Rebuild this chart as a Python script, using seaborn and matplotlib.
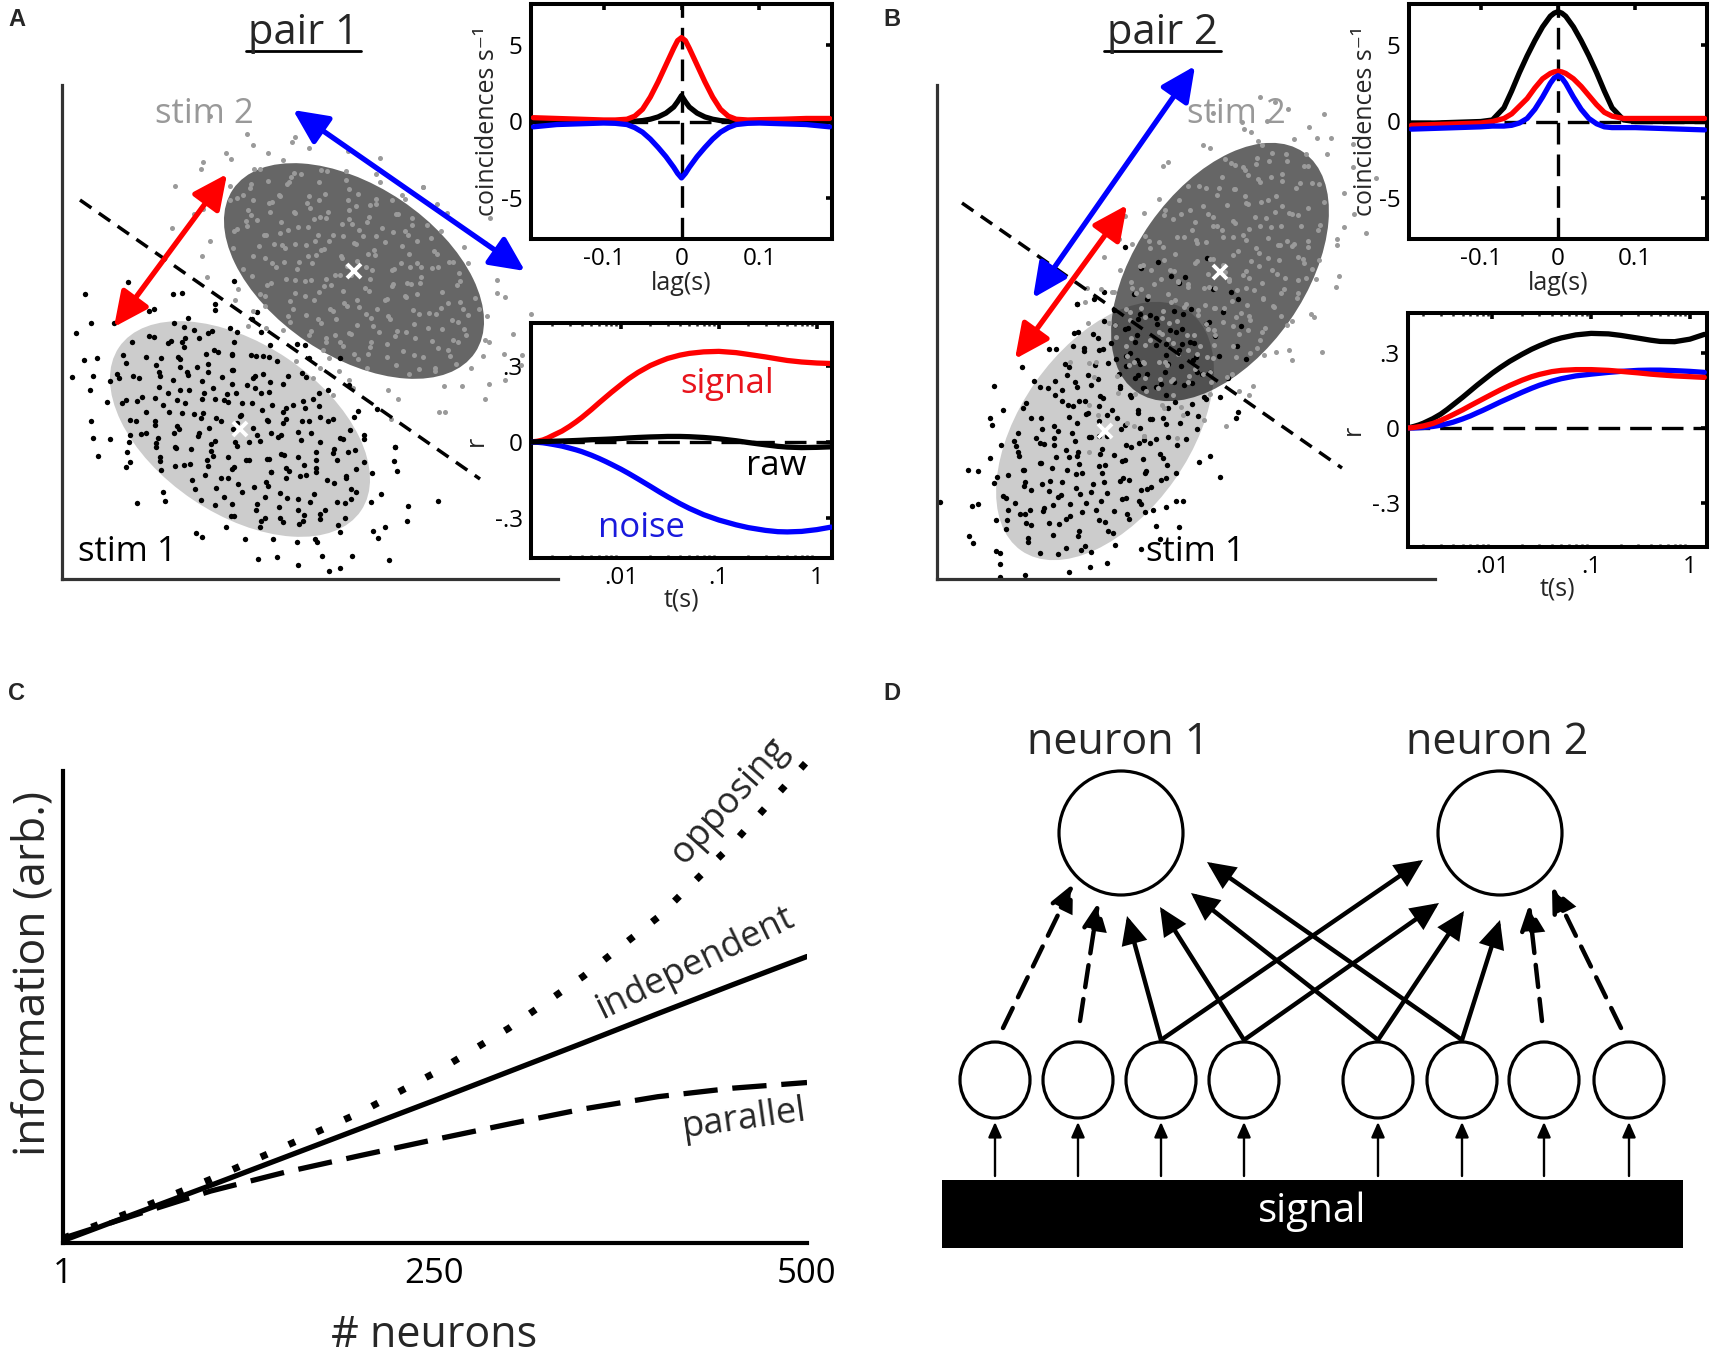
import numpy as np
import pandas as pd
import matplotlib
matplotlib.use("Agg")
import matplotlib.pyplot as plt
from matplotlib.patches import Ellipse, Circle, Rectangle, FancyArrowPatch, ArrowStyle
from matplotlib.ticker import FixedLocator, FixedFormatter, LogLocator, NullFormatter
import seaborn as sns

# ---------------- cross-correlograms (top insets) ----------------
lag_s = [-0.19, -0.16, -0.13, -0.1, -0.085, -0.07, -0.06, -0.05, -0.04, -0.03, -0.02, -0.01, -0.005, 0.0,
         0.005, 0.01, 0.02, 0.03, 0.04, 0.05, 0.06, 0.07, 0.085, 0.1, 0.13, 0.16, 0.19]
ccg1_signal = [0.25, 0.2, 0.15, 0.1, 0.1, 0.15, 0.35, 0.8, 1.6, 2.6, 3.7, 4.8, 5.3, 5.5,
               5.3, 4.8, 3.7, 2.6, 1.6, 0.8, 0.35, 0.15, 0.1, 0.12, 0.15, 0.2, 0.2]
ccg1_raw = [0, 0, 0, 0, 0, 0, 0.02, 0.06, 0.15, 0.3, 0.55, 0.95, 1.3, 1.7,
            1.3, 0.95, 0.55, 0.3, 0.15, 0.06, 0.02, 0, 0, 0, 0, 0, 0]
ccg1_noise = [-0.35, -0.2, -0.15, -0.1, -0.12, -0.2, -0.4, -0.7, -1.15, -1.7, -2.3, -3.0, -3.4, -3.7,
              -3.4, -3.0, -2.3, -1.7, -1.15, -0.7, -0.4, -0.2, -0.12, -0.1, -0.15, -0.2, -0.35]
ccg2_signal = [-0.25, -0.2, -0.15, -0.1, 0.0, 0.2, 0.5, 1.0, 1.5, 2.2, 2.8, 3.15, 3.25, 3.3,
               3.25, 3.15, 2.8, 2.3, 1.7, 1.1, 0.6, 0.35, 0.2, 0.2, 0.2, 0.2, 0.2]
ccg2_raw = [-0.1, -0.1, -0.05, 0.0, 0.1, 0.9, 2.0, 3.2, 4.3, 5.3, 6.2, 6.9, 7.1, 7.2,
            7.1, 6.9, 6.2, 5.3, 4.3, 3.2, 2.0, 0.9, 0.1, 0.0, 0.0, 0.0, 0.0]
ccg2_noise = [-0.5, -0.45, -0.4, -0.35, -0.3, -0.3, -0.25, -0.1, 0.2, 0.8, 1.6, 2.5, 2.85, 3.0,
              2.85, 2.5, 1.6, 0.8, 0.2, -0.15, -0.35, -0.4, -0.4, -0.4, -0.45, -0.5, -0.55]

# ---------------- correlation vs counting window (bottom insets) ----------------
win_s = [0.0012, 0.0014, 0.0016, 0.0018, 0.002, 0.0025, 0.003, 0.0035, 0.004, 0.005, 0.006,
         0.007, 0.008, 0.01, 0.012, 0.015, 0.02, 0.025, 0.03, 0.04, 0.05, 0.07, 0.1, 0.15,
         0.2, 0.3, 0.4, 0.5, 0.7, 1.0, 1.4]
r1_signal = [0.0, 0.003, 0.008, 0.016, 0.025, 0.043, 0.062, 0.08, 0.097, 0.128, 0.155,
             0.177, 0.196, 0.226, 0.25, 0.275, 0.302, 0.318, 0.33, 0.343, 0.35, 0.356, 0.358, 0.353,
             0.346, 0.336, 0.328, 0.322, 0.316, 0.312, 0.31]
r1_raw = [0.0, 0.001, 0.002, 0.002, 0.003, 0.004, 0.005, 0.006, 0.007, 0.009, 0.01,
          0.011, 0.012, 0.014, 0.016, 0.018, 0.02, 0.021, 0.022, 0.022, 0.021, 0.018, 0.013, 0.005,
          -0.002, -0.011, -0.017, -0.02, -0.022, -0.021, -0.019]
r1_noise = [0.0, -0.001, -0.003, -0.006, -0.009, -0.016, -0.024, -0.031, -0.038, -0.052, -0.065,
            -0.077, -0.088, -0.107, -0.124, -0.146, -0.175, -0.198, -0.216, -0.243, -0.262, -0.287, -0.308, -0.327,
            -0.338, -0.349, -0.354, -0.355, -0.353, -0.346, -0.336]
r2_signal = [-0.002, 0.0, 0.002, 0.005, 0.008, 0.018, 0.03, 0.042, 0.053, 0.072, 0.089,
             0.103, 0.115, 0.135, 0.151, 0.169, 0.19, 0.204, 0.213, 0.224, 0.229, 0.232, 0.232, 0.229,
             0.225, 0.219, 0.214, 0.211, 0.207, 0.204, 0.201]
r2_raw = [-0.004, 0.0, 0.006, 0.012, 0.019, 0.037, 0.055, 0.074, 0.092, 0.122, 0.148,
          0.17, 0.188, 0.218, 0.24, 0.265, 0.293, 0.313, 0.327, 0.347, 0.358, 0.37, 0.376, 0.374,
          0.368, 0.357, 0.349, 0.344, 0.343, 0.353, 0.372]
r2_noise = [-0.002, 0.0, 0.0, 0.001, 0.002, 0.006, 0.011, 0.017, 0.023, 0.036, 0.048,
            0.06, 0.07, 0.088, 0.103, 0.12, 0.142, 0.158, 0.17, 0.186, 0.196, 0.207, 0.214, 0.221,
            0.225, 0.229, 0.23, 0.23, 0.228, 0.225, 0.221]

# ---------------- panel C ----------------
n_neurons = [1, 50, 100, 150, 200, 250, 300, 350, 400, 450, 500]
info_independent = [0.005, 0.063, 0.122, 0.182, 0.242, 0.302, 0.363, 0.424, 0.486, 0.547, 0.607]
info_opposing = [0.01, 0.07, 0.135, 0.205, 0.276, 0.36, 0.455, 0.565, 0.69, 0.845, 1.02]
info_parallel = [0.01, 0.06, 0.11, 0.15, 0.185, 0.219, 0.252, 0.284, 0.31, 0.328, 0.34]
n_ticks = [1, 250, 500]
n_ticklabels = ["1", "250", "500"]

# ---------------- schematic response clouds ----------------
# sample offsets in units of the covariance-ellipse semi-axes
cloud_uv = [
    (0.12, 0.05), (-0.31, 0.22), (0.45, -0.18), (-0.08, -0.41), (0.67, 0.33), (-0.55, -0.12), (0.21, 0.58), (-0.73, 0.41), (0.38, -0.62), (-0.19, 0.81),
    (0.83, -0.07), (-0.42, -0.69), (0.05, 0.33), (-0.91, -0.28), (0.58, 0.12), (-0.26, -0.15), (0.31, 0.87), (-0.64, 0.66), (0.92, 0.44), (-0.03, -0.88),
    (0.17, -0.25), (-0.48, 0.51), (0.71, -0.49), (-0.81, 0.08), (0.26, 0.21), (-0.12, 0.62), (0.49, -0.83), (-0.36, -0.47), (1.02, 0.15), (-0.58, -0.85),
    (0.08, -0.6), (-0.22, 0.39), (0.63, 0.71), (-0.97, 0.55), (0.35, -0.34), (-0.69, -0.4), (0.14, 0.95), (-0.05, 0.14), (0.79, 0.22), (-0.44, 0.05),
    (0.55, -0.02), (-0.29, -0.92), (0.42, 0.43), (-0.86, -0.61), (0.02, -0.16), (-0.15, -0.67), (0.96, -0.35), (-0.61, 0.29), (0.24, -0.78), (-0.39, 0.92),
    (0.73, 0.55), (-0.02, 0.49), (0.33, 0.03), (-0.77, -0.17), (0.47, 0.66), (-0.53, 0.77), (0.11, -0.44), (-0.34, 0.11), (0.87, -0.6), (-0.1, -0.28),
    (1.15, -0.12), (-1.12, 0.2), (0.6, 0.95), (-0.7, -0.95), (0.3, -1.05), (-0.25, 1.08), (1.05, 0.62), (-1.04, -0.45), (0.85, -0.95), (-0.9, 0.88),
    (0.19, 0.17), (-0.47, -0.3), (0.52, 0.27), (-0.18, -0.05), (0.07, 0.72), (-0.62, -0.6), (0.4, -0.5), (-0.33, 0.68), (0.68, -0.25), (-0.84, 0.33),
    (0.27, -0.12), (-0.09, 0.27), (0.61, 0.42), (-0.5, -0.52), (0.15, -0.9), (-0.72, 0.18), (0.9, 0.05), (-0.23, -0.79), (0.36, 0.74), (-0.4, 0.35),
    (0.04, -0.35), (-0.57, 0.04), (0.76, -0.73), (-0.13, 0.47), (0.5, 0.07), (-0.95, -0.05), (0.22, 0.4), (-0.3, -0.6), (0.64, -0.41), (-0.66, 0.52),
    (1.25, 0.35), (-1.3, -0.15), (0.45, 1.15), (-0.5, -1.12), (1.1, -0.7), (-0.15, -1.2), (0.05, 1.25), (-1.2, 0.7), (1.35, -0.3), (-0.8, -1.05),
    (0.1, -0.07), (-0.2, 0.18), (0.34, -0.22), (-0.45, 0.6), (0.57, -0.6), (-0.6, -0.25), (0.18, 0.5), (-0.07, -0.52), (0.81, 0.37), (-0.37, -0.38),
    (0.29, 0.63), (-0.76, -0.47), (0.44, -0.09), (-0.11, 0.9), (0.69, 0.08), (-0.52, 0.2), (0.09, -0.74), (-0.27, 0.53), (0.94, -0.18), (-0.88, -0.3),
    (0.39, 0.3), (-0.04, 0.04), (0.53, -0.36), (-0.35, -0.8), (0.74, 0.72), (-0.68, 0.02), (0.2, -0.55), (-0.16, 0.32), (0.62, 0.58), (-0.54, -0.7),
    (0.13, 0.26), (-0.41, -0.11), (0.78, -0.3), (-0.21, -0.34), (0.32, 0.48), (-0.63, 0.43), (0.48, -0.7), (-0.01, 0.66), (0.86, 0.15), (-0.78, 0.6),
    (1.2, 0.0), (-1.05, 0.5), (0.7, -1.0), (-0.35, 1.15), (0.95, 0.85), (-1.15, -0.6), (0.2, -1.3), (-0.6, 1.0), (1.4, 0.6), (-1.4, 0.3),
]
ELL_A, ELL_B = 146, 85          # ellipse semi-axes (px)
pairA = dict(light=(178, 150), dark=(292, 308), tilt=-34, spins_light=[0, 90], spins_dark=[45, 135],
             sep=((18, 379), (418, 100)), red=((52, 252), (165, 405)), blue=((231, 469), (463, 308)))
pairB = dict(light=(168, 148), dark=(283, 307), tilt=55, spins_light=[20, 110], spins_dark=[245, 155],
             sep=((25, 376), (405, 111)), red=((78, 220), (190, 374)), blue=((96, 281), (258, 513)))

# ---------------- panel D layout ----------------
big_centers = [(1121, 833), (1500, 833)]
small_x = [995, 1078, 1161, 1244, 1378, 1462, 1544, 1629]
small_y = 1080
dashed_links = [((1003, 1028), (1073, 884)), ((1080, 1021), (1098, 903)),
                ((1542, 1021), (1529, 905)), ((1621, 1028), (1552, 887))]
solid_links = [((1161, 1040), (1127, 916)), ((1244, 1040), (1160, 907)),
               ((1378, 1040), (1191, 893)), ((1462, 1040), (1207, 862)),
               ((1161, 1040), (1423, 860)), ((1244, 1040), (1439, 903)),
               ((1378, 1040), (1464, 911)), ((1462, 1040), (1500, 920))]

# =====================================================================
sns.set_theme(style="white")
plt.rcParams["font.family"] = ["Open Sans", "DejaVu Sans"]
plt.rcParams["axes.unicode_minus"] = False

W, H = 1714, 1357
fig = plt.figure(figsize=(W / 100, H / 100), dpi=100)
fig.patch.set_facecolor("white")


def px_axes(x0, y0, x1, y1, **kw):
    return fig.add_axes([x0 / W, 1 - y1 / H, (x1 - x0) / W, (y1 - y0) / H], **kw)


def cloud_points(center, tilt, spins):
    uv = np.array(cloud_uv)
    ct, st = np.cos(np.radians(tilt)), np.sin(np.radians(tilt))
    xs, ys = [], []
    for s in spins:
        c, si = np.cos(np.radians(s)), np.sin(np.radians(s))
        u = uv[:, 0] * c - uv[:, 1] * si
        v = uv[:, 0] * si + uv[:, 1] * c
        xs.append(center[0] + ELL_A * u * ct - ELL_B * v * st)
        ys.append(center[1] + ELL_A * u * st + ELL_B * v * ct)
    return np.concatenate(xs), np.concatenate(ys)


def scatter_panel(box, p, xlabel_x):
    ax = px_axes(*box, zorder=1)
    ax.set_facecolor("none")
    ax.set_xlim(0, box[2] - box[0])
    ax.set_ylim(0, box[3] - box[1])
    for side in ["top", "right"]:
        ax.spines[side].set_visible(False)
    for side in ["left", "bottom"]:
        ax.spines[side].set_color("#333333")
        ax.spines[side].set_linewidth(2.3)
    ax.set_xticks([])
    ax.set_yticks([])
    ax.add_patch(Ellipse(p["light"], 2 * ELL_A, 2 * ELL_B, angle=p["tilt"], fc="#cccccc", ec="none", zorder=1))
    bx, by = cloud_points(p["light"], p["tilt"], p["spins_light"])
    sns.scatterplot(x=bx, y=by, s=15, color="black", linewidth=0, ax=ax, zorder=2, legend=False)
    ax.add_patch(Ellipse(p["dark"], 2 * ELL_A, 2 * ELL_B, angle=p["tilt"], fc="black", alpha=0.6, ec="none", zorder=3))
    gx, gy = cloud_points(p["dark"], p["tilt"], p["spins_dark"])
    sns.scatterplot(x=gx, y=gy, s=13, color="#9a9a9a", linewidth=0, ax=ax, zorder=4, legend=False)
    (x0, y0), (x1, y1) = p["sep"]
    ax.plot([x0, x1], [y0, y1], color="black", lw=2.5, dashes=(4, 2.6), zorder=5)
    style = ArrowStyle("<|-|>", head_length=21, head_width=10)
    for key, col in [("red", "#ff0000"), ("blue", "#0000ff")]:
        a, b = p[key]
        ax.add_patch(FancyArrowPatch(a, b, arrowstyle=style, mutation_scale=1, lw=3.8, color=col,
                                     shrinkA=0, shrinkB=0, zorder=6, clip_on=False))
    for c in [p["light"], p["dark"]]:
        ax.plot([c[0]], [c[1]], marker="x", ms=10, mew=2.8, color="white", zorder=7)
    ax.set_xlabel("neuron 1", fontsize=31, va="center")
    ax.xaxis.set_label_coords(0.496, -0.071)
    ax.set_ylabel("neuron 2", fontsize=31, va="center", ha="center")
    ax.yaxis.set_label_coords(xlabel_x, 0.498)
    return ax


def style_inset(ax):
    for s in ax.spines.values():
        s.set_linewidth(2.9)
        s.set_color("black")
    ax.tick_params(which="major", direction="in", top=True, right=True, length=4, width=2.6,
                   labelsize=17.5, pad=6, colors="black")
    ax.tick_params(which="minor", direction="in", top=True, bottom=True, length=2.5, width=1.8)


def lag_inset(box, series):
    ax = px_axes(*box, zorder=2)
    ax.set_facecolor("white")
    ax.axvline(0, color="black", lw=2.4, dashes=(6.5, 3), zorder=1)
    ax.axhline(0, color="black", lw=2.4, dashes=(6.5, 3), zorder=1)
    for i, (vals, col) in enumerate(series):
        sns.lineplot(x=lag_s, y=vals, color=col, lw=3.8, ax=ax, zorder=2 + i)
    ax.set_xlim(-0.193, 0.193)
    ax.set_ylim(-7.7, 7.7)
    ax.xaxis.set_major_locator(FixedLocator([-0.1, 0, 0.1]))
    ax.xaxis.set_major_formatter(FixedFormatter(["-0.1", "0", "0.1"]))
    ax.yaxis.set_major_locator(FixedLocator([-5, 0, 5]))
    ax.yaxis.set_major_formatter(FixedFormatter(["-5", "0", "5"]))
    style_inset(ax)
    ax.set_xlabel("lag(s)", fontsize=18, labelpad=0)
    ax.set_ylabel("coincidences s\u207b\u00b9", fontsize=18, labelpad=1)
    return ax


def time_inset(box, xlim, ylim, series):
    ax = px_axes(*box, zorder=2)
    ax.set_facecolor("white")
    ax.set_xscale("log")
    ax.axhline(0, color="black", lw=2.4, dashes=(6.5, 3), zorder=1)
    for i, (vals, col) in enumerate(series):
        sns.lineplot(x=win_s, y=vals, color=col, lw=3.8, ax=ax, zorder=2 + i)
    ax.set_xlim(*xlim)
    ax.set_ylim(*ylim)
    ax.xaxis.set_major_locator(FixedLocator([0.01, 0.1, 1]))
    ax.xaxis.set_major_formatter(FixedFormatter([".01", ".1", "1"]))
    ax.xaxis.set_minor_locator(LogLocator(base=10, subs=np.arange(2, 10)))
    ax.xaxis.set_minor_formatter(NullFormatter())
    ax.yaxis.set_major_locator(FixedLocator([-0.3, 0, 0.3]))
    ax.yaxis.set_major_formatter(FixedFormatter(["-.3", "0", ".3"]))
    style_inset(ax)
    ax.set_xlabel("t(s)", fontsize=18, labelpad=-2)
    ax.set_ylabel("r", fontsize=18, labelpad=4)
    return ax


# ---------------- panels A and B ----------------
scatter_panel((62, 85, 558, 579), pairA, -0.077)
scatter_panel((937, 85, 1435, 579), pairB, -0.078)

lag_inset((531, 4, 832, 239), [(ccg1_raw, "black"), (ccg1_signal, "#ff0000"), (ccg1_noise, "#0000ff")])
lag_inset((1409, 4, 1707, 239), [(ccg2_raw, "black"), (ccg2_signal, "#ff0000"), (ccg2_noise, "#0000ff")])

axr1 = time_inset((531, 323, 832, 558), (0.00121, 1.43), (-0.458, 0.47),
                  [(r1_signal, "#ff0000"), (r1_noise, "#0000ff"), (r1_raw, "black")])
axr1.text(0.122, 0.23, "signal", color="#e8141c", fontsize=25, ha="center", va="center")
axr1.text(0.389, -0.095, "raw", color="black", fontsize=25, ha="center", va="center")
axr1.text(0.0164, -0.34, "noise", color="#1a1adc", fontsize=25, ha="center", va="center")

time_inset((1408, 313, 1707, 547), (0.0014, 1.49), (-0.473, 0.457),
           [(r2_raw, "black"), (r2_noise, "#0000ff"), (r2_signal, "#ff0000")])

# ---------------- panel C ----------------
axc = px_axes(63, 771, 807, 1243, zorder=1)
axc.set_facecolor("none")
sns.lineplot(x=n_neurons, y=info_opposing, color="black", lw=5, ax=axc, clip_on=False,
             linestyle=(0, (1, 3.4)))
sns.lineplot(x=n_neurons, y=info_parallel, color="black", lw=3.8, ax=axc, linestyle=(0, (6.5, 2.8)))
sns.lineplot(x=n_neurons, y=info_independent, color="black", lw=3.8, ax=axc)
axc.set_xlim(1, 500)
axc.set_ylim(0, 1)
for side in ["top", "right"]:
    axc.spines[side].set_visible(False)
for side in ["left", "bottom"]:
    axc.spines[side].set_linewidth(3)
    axc.spines[side].set_color("black")
axc.set_xticks(n_ticks)
axc.set_xticklabels(n_ticklabels)
axc.set_yticks([])
axc.tick_params(axis="x", direction="in", length=8, width=2.6, labelsize=25, pad=10, colors="black")
axc.set_xlabel("# neurons", fontsize=31, va="center")
axc.xaxis.set_label_coords(0.499, -0.197)
axc.set_ylabel("information (arb.)", fontsize=32, va="center", ha="center")
axc.yaxis.set_label_coords(-0.040, 0.572)
axc.text(448, 0.936, "opposing", fontsize=26, rotation=48, rotation_mode="anchor", ha="center", va="center")
axc.text(425, 0.592, "independent", fontsize=26, rotation=26, rotation_mode="anchor", ha="center", va="center")
axc.text(458, 0.262, "parallel", fontsize=26, rotation=8, rotation_mode="anchor", ha="center", va="center")

# ---------------- overlay: letters, titles, panel D ----------------
ov = fig.add_axes([0, 0, 1, 1], zorder=5)
ov.set_xlim(0, W)
ov.set_ylim(H, 0)
ov.axis("off")
ov.patch.set_alpha(0)

for lab, (x, y) in zip("ABCD", [(17, 20), (892, 20), (17, 694), (892, 694)]):
    ov.text(x, y, lab, fontsize=17, fontweight="bold", family="Liberation Sans", ha="center", va="center")

for title, cx, (u0, u1) in [("pair 1", 303, (246, 361)), ("pair 2", 1162, (1104, 1221))]:
    ov.text(cx, 33, title, fontsize=30, ha="center", va="center")
    ov.plot([u0, u1], [51, 51], color="black", lw=2)

for txt, (x, y), col in [("stim 2", (204, 114), "#999999"), ("stim 1", (127, 552), "black"),
                         ("stim 2", (1236, 114), "#999999"), ("stim 1", (1195, 552), "black")]:
    ov.text(x, y, txt, fontsize=25, color=col, ha="center", va="center")

# panel D
for (cx, cy), name in zip(big_centers, ["neuron 1", "neuron 2"]):
    ov.add_patch(Circle((cx, cy), 62, fill=False, ec="black", lw=2.3))
    ov.text(cx - 3, 743, name, fontsize=31, ha="center", va="center")
for x in small_x:
    ov.add_patch(Ellipse((x, small_y), 70, 76, fill=False, ec="black", lw=2.3))
    ov.add_patch(FancyArrowPatch((x, 1176), (x, 1122), arrowstyle=ArrowStyle("-|>", head_length=9, head_width=4),
                                 mutation_scale=1, lw=1.7, color="black", shrinkA=0, shrinkB=0))
ov.add_patch(Rectangle((942, 1180), 741, 68, fc="black", ec="none"))
ov.text(1312, 1212, "signal", fontsize=29, color="white", ha="center", va="center")

big_style = ArrowStyle("-|>", head_length=15, head_width=7)
for a, b in solid_links:
    ov.add_patch(FancyArrowPatch(a, b, arrowstyle=big_style, mutation_scale=1, lw=3.2, color="black",
                                 shrinkA=0, shrinkB=0, joinstyle="miter"))
for a, b in dashed_links:
    ov.add_patch(FancyArrowPatch(a, b, arrowstyle=big_style, mutation_scale=1, lw=3.2, color="black",
                                 shrinkA=0, shrinkB=0, linestyle=(0, (5, 2.7)), joinstyle="miter"))

fig.savefig("out.png", dpi=100, facecolor="white")
